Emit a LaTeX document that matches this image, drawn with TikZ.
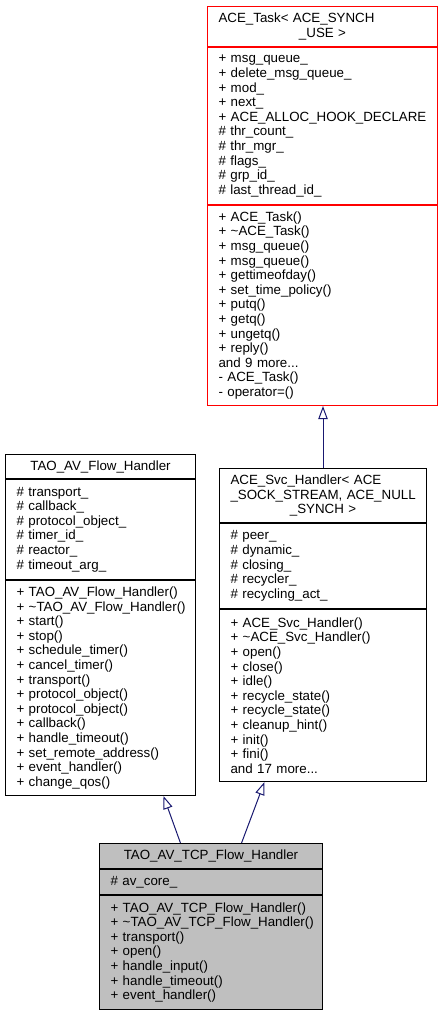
\documentclass[tikz,border=0pt]{standalone}
\usepackage{fontspec}
\setmainfont{Liberation Sans}
\usetikzlibrary{arrows.meta,positioning}
\definecolor{inhblue}{RGB}{25,25,112}
\definecolor{mygray}{RGB}{191,191,191}
\newcommand{\umlfont}{\fontsize{10pt}{10.95pt}\selectfont}
\newcommand{\ctr}[1]{\makebox[\linewidth]{#1}}
\newcommand{\tld}{\textasciitilde}

\begin{document}
\begin{tikzpicture}[x=0.75pt,y=-0.75pt,
  part/.style={rectangle,draw,line width=0.75pt,text width=#1,align=left,
               font=\umlfont,inner xsep=8.25pt,inner ysep=0pt},
  inh/.style={-{Triangle[open,length=9.75pt,width=7pt]},draw=inhblue,line width=0.75pt}]
\useasboundingbox (0,0) rectangle (443,1013);
% ACE_Task
\node[part=156pt,draw=red,minimum height=30pt,anchor=north west] (taskT) at (207,6)
  {ACE\_Task<~ACE\_SYNCH\\\ctr{\_USE >}};
\node[part=156pt,draw=red,minimum height=117.75pt,below=0pt of taskT] (taskA)
  {+~msg\_queue\_\\+~delete\_msg\_queue\_\\+~mod\_\\+~next\_\\+~ACE\_ALLOC\_HOOK\_DECLARE\\
   \#~thr\_count\_\\\#~thr\_mgr\_\\\#~flags\_\\\#~grp\_id\_\\\#~last\_thread\_id\_};
\node[part=156pt,draw=red,minimum height=150pt,below=0pt of taskA] (taskM)
  {+~ACE\_Task()\\+~\tld ACE\_Task()\\+~msg\_queue()\\+~msg\_queue()\\+~gettimeofday()\\
   +~set\_time\_policy()\\+~putq()\\+~getq()\\+~ungetq()\\+~reply()\\and 9 more...\\
   -~ACE\_Task()\\-~operator=()};
% ACE_Svc_Handler
\node[part=138.75pt,minimum height=40.5pt,anchor=north west] (svcT) at (219,468)
  {ACE\_Svc\_Handler<~ACE\\\_SOCK\_STREAM,~ACE\_NULL\\\ctr{\_SYNCH >}};
\node[part=138.75pt,minimum height=63.75pt,below=0pt of svcT] (svcA)
  {\#~peer\_\\\#~dynamic\_\\\#~closing\_\\\#~recycler\_\\\#~recycling\_act\_};
\node[part=138.75pt,minimum height=129pt,below=0pt of svcA] (svcM)
  {+~ACE\_Svc\_Handler()\\+~\tld ACE\_Svc\_Handler()\\+~open()\\+~close()\\+~idle()\\
   +~recycle\_state()\\+~recycle\_state()\\+~cleanup\_hint()\\+~init()\\+~fini()\\
   and 17 more...};
% TAO_AV_Flow_Handler
\node[part=126pt,minimum height=18pt,anchor=north west] (flowT) at (5,454)
  {\ctr{TAO\_AV\_Flow\_Handler}};
\node[part=126pt,minimum height=75pt,below=0pt of flowT] (flowA)
  {\#~transport\_\\\#~callback\_\\\#~protocol\_object\_\\\#~timer\_id\_\\\#~reactor\_\\
   \#~timeout\_arg\_};
\node[part=126pt,minimum height=161.25pt,below=0pt of flowA] (flowM)
  {+~TAO\_AV\_Flow\_Handler()\\+~\tld TAO\_AV\_Flow\_Handler()\\+~start()\\+~stop()\\
   +~schedule\_timer()\\+~cancel\_timer()\\+~transport()\\+~protocol\_object()\\
   +~protocol\_object()\\+~callback()\\+~handle\_timeout()\\+~set\_remote\_address()\\
   +~event\_handler()\\+~change\_qos()};
% TAO_AV_TCP_Flow_Handler
\node[part=150.75pt,fill=mygray,minimum height=18.75pt,anchor=north west] (tcpT) at (99,843)
  {\ctr{TAO\_AV\_TCP\_Flow\_Handler}};
\node[part=150.75pt,fill=mygray,minimum height=18.75pt,below=0pt of tcpT] (tcpA)
  {\#~av\_core\_};
\node[part=150.75pt,fill=mygray,minimum height=85.5pt,below=0pt of tcpA] (tcpM)
  {+~TAO\_AV\_TCP\_Flow\_Handler()\\+~\tld TAO\_AV\_TCP\_Flow\_Handler()\\+~transport()\\
   +~open()\\+~handle\_input()\\+~handle\_timeout()\\+~event\_handler()};
% inheritance
\draw[inh] (svcT.north) -- (svcT.north |- taskM.south);
\draw[inh] ([xshift=-22.9pt]tcpT.north) -- ([xshift=47.25pt]flowM.south);
\draw[inh] ([xshift=22.9pt]tcpT.north) -- ([xshift=-43.9pt]svcM.south);
\end{tikzpicture}
\end{document}
